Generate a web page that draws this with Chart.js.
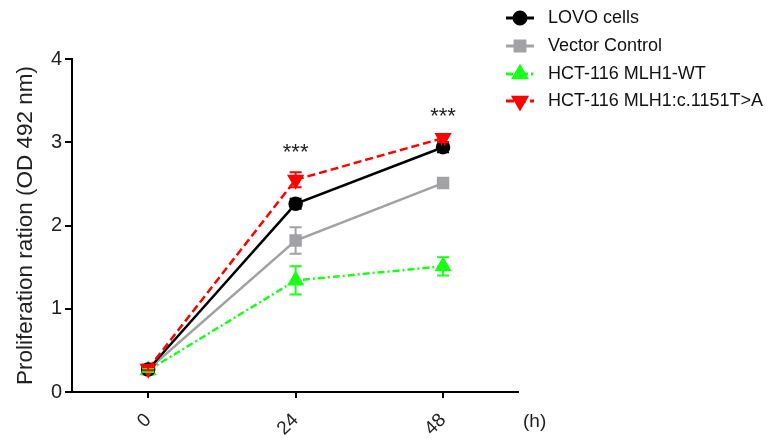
<!DOCTYPE html>
<html>
<head>
<meta charset="utf-8">
<script src="https://cdn.jsdelivr.net/npm/chart.js@4.4.1/dist/chart.umd.min.js"></script>
<style>
  html, body { margin: 0; padding: 0; background: #fff; }
  #wrap { width: 773px; height: 438px; }
</style>
</head>
<body>
<div id="wrap"><canvas id="prolifChart" width="773" height="438"></canvas></div>
<script>
// time points (h)
const times = [0, 24, 48];
const xTicks = [0, 24, 48];
const yTicks = [0, 1, 2, 3, 4];

const seriesNames = ['LOVO cells', 'Vector Control', 'HCT-116 MLH1-WT', 'HCT-116 MLH1:c.1151T>A'];
const lovo = [0.27, 2.26, 2.94];
const lovoErr = [0.02, 0.06, 0.06];
const vector = [0.27, 1.82, 2.51];
const vectorErr = [0.02, 0.16, 0.03];
const wt = [0.26, 1.34, 1.51];
const wtErr = [0.02, 0.17, 0.11];
const mut = [0.28, 2.55, 3.05];
const mutErr = [0.02, 0.09, 0.05];

// significance marks
const starTimes = [24, 48];
const starLevels = [2.93, 3.36];

const FONT = '"Liberation Sans", Arial, sans-serif';
const toPts = arr => arr.map((v, i) => ({ x: times[i], y: v }));

const errors = [lovoErr, vectorErr, wtErr, mutErr];

const errorBars = {
  id: 'errorBars',
  afterDatasetsDraw(chart) {
    const ctx = chart.ctx;
    const xs = chart.scales.x, ys = chart.scales.y;
    chart.data.datasets.forEach((ds, di) => {
      ctx.save();
      ctx.strokeStyle = ds.borderColor;
      ctx.lineWidth = 2;
      ds.data.forEach((p, i) => {
        const e = errors[di][i];
        const x = xs.getPixelForValue(p.x);
        const y1 = ys.getPixelForValue(p.y - e);
        const y2 = ys.getPixelForValue(p.y + e);
        ctx.beginPath();
        ctx.moveTo(x, y1); ctx.lineTo(x, y2);
        ctx.moveTo(x - 6, y1); ctx.lineTo(x + 6, y1);
        ctx.moveTo(x - 6, y2); ctx.lineTo(x + 6, y2);
        ctx.stroke();
      });
      ctx.restore();
    });
  }
};

const extras = {
  id: 'extras',
  afterDraw(chart) {
    const ctx = chart.ctx;
    const xs = chart.scales.x, ys = chart.scales.y;
    const area = chart.chartArea;
    ctx.save();
    // stars
    ctx.fillStyle = '#222';
    ctx.font = '22px ' + FONT;
    ctx.textAlign = 'center';
    ctx.textBaseline = 'middle';
    starTimes.forEach((t, i) => {
      ctx.fillText('***', xs.getPixelForValue(t), ys.getPixelForValue(starLevels[i]) + 5);
    });
    // unit label
    ctx.font = '19px ' + FONT;
    ctx.textAlign = 'left';
    ctx.fillText('(h)', area.right + 5, area.bottom + 30);

    // legend
    const rows = [18, 46, 74, 101];
    chart.data.datasets.forEach((ds, i) => {
      const y = rows[i];
      ctx.strokeStyle = ds.borderColor;
      ctx.fillStyle = ds.borderColor;
      ctx.lineWidth = 3;
      ctx.setLineDash(ds.borderDash || []);
      ctx.beginPath();
      ctx.moveTo(506, y); ctx.lineTo(534, y);
      ctx.stroke();
      ctx.setLineDash([]);
      Chart.helpers.drawPoint(ctx, {
        pointStyle: ds.pointStyle,
        radius: ds.pointRadius,
        rotation: ds.pointRotation || 0,
        borderWidth: 1
      }, 520, y);
      ctx.fillStyle = '#111';
      ctx.font = '18px ' + FONT;
      ctx.textAlign = 'left';
      ctx.textBaseline = 'middle';
      ctx.fillText(ds.label, 548, y);
    });
    ctx.restore();
  }
};

const ctx = document.getElementById('prolifChart').getContext('2d');
const prolifChart = new Chart(ctx, {
  type: 'line',
  data: {
    datasets: [{
      label: seriesNames[0],
      data: toPts(lovo),
      borderColor: '#000000',
      backgroundColor: '#000000',
      borderWidth: 2.5,
      pointStyle: 'circle',
      pointRadius: 6,
      order: 1
    }, {
      label: seriesNames[1],
      data: toPts(vector),
      borderColor: '#a2a2a4',
      backgroundColor: '#a2a2a4',
      borderWidth: 2.5,
      pointStyle: 'rect',
      pointRadius: 7,
      order: 2
    }, {
      label: seriesNames[2],
      data: toPts(wt),
      borderColor: '#1aff1a',
      backgroundColor: '#1aff1a',
      borderWidth: 2.5,
      borderDash: [7, 3, 2, 3],
      pointStyle: 'triangle',
      pointRadius: 7.5,
      order: 3
    }, {
      label: seriesNames[3],
      data: toPts(mut),
      borderColor: '#ff0000',
      backgroundColor: '#ff0000',
      borderWidth: 2.5,
      borderDash: [8, 4],
      pointStyle: 'triangle',
      pointRotation: 180,
      pointRadius: 7.5,
      order: 0
    }]
  },
  options: {
    responsive: false,
    animation: false,
    layout: {
      padding: { left: 0, top: 59, right: 255, bottom: 0 }
    },
    elements: {
      line: { tension: 0, fill: false },
      point: { borderWidth: 1 }
    },
    scales: {
      x: {
        type: 'linear',
        min: -12.4,
        max: 60.2,
        afterBuildTicks: scale => { scale.ticks = xTicks.map(v => ({ value: v })); },
        afterFit: scale => { scale.height = 46; },
        ticks: {
          minRotation: 45,
          maxRotation: 45,
          color: '#222',
          padding: 11,
          font: { size: 19, family: FONT }
        },
        grid: {
          drawOnChartArea: false,
          drawTicks: true,
          tickLength: 6,
          color: '#000',
          lineWidth: 2
        },
        border: { color: '#000', width: 2 }
      },
      y: {
        min: 0,
        max: 4,
        afterBuildTicks: scale => { scale.ticks = yTicks.map(v => ({ value: v })); },
        afterFit: scale => { scale.width = 72; },
        ticks: {
          color: '#222',
          padding: 3,
          font: { size: 20, family: FONT }
        },
        grid: {
          drawOnChartArea: false,
          drawTicks: true,
          tickLength: 7,
          color: '#000',
          lineWidth: 2
        },
        border: { color: '#000', width: 2 },
        title: {
          display: true,
          text: 'Proliferation ration (OD 492 nm)',
          color: '#222',
          padding: { top: 12, bottom: 0 },
          font: { size: 22.5, family: FONT }
        }
      }
    },
    plugins: {
      legend: { display: false },
      tooltip: { enabled: false }
    }
  },
  plugins: [errorBars, extras]
});
</script>
</body>
</html>
